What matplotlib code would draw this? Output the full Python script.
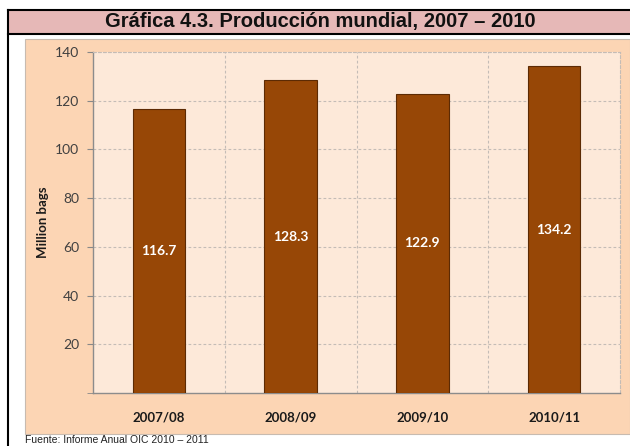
import matplotlib
matplotlib.use("Agg")
import matplotlib.pyplot as plt
from matplotlib.patches import Rectangle
from matplotlib.lines import Line2D

categories = ["2007/08", "2008/09", "2009/10", "2010/11"]
production = [116.7, 128.3, 122.9, 134.2]
yticks = [20, 40, 60, 80, 100, 120, 140]

W, H = 630, 446
fig = plt.figure(figsize=(W / 100, H / 100), dpi=100)
fig.patch.set_facecolor("white")

def fx(x):
    return x / W

def fy(y):
    return 1 - y / H

body = ["Lato", "Open Sans", "DejaVu Sans"]
narrow = ["Liberation Sans Narrow", "Liberation Sans", "DejaVu Sans"]

# title band
fig.patches.append(Rectangle((fx(8), fy(33.5)), fx(630) - fx(8), fy(10) - fy(33.5),
                             transform=fig.transFigure, facecolor="#E6B8B7",
                             edgecolor="none", zorder=0))
fig.lines.append(Line2D([fx(8), 1], [fy(9.5), fy(9.5)], transform=fig.transFigure, color="black", lw=1.5))
fig.lines.append(Line2D([fx(8), 1], [fy(33.5), fy(33.5)], transform=fig.transFigure, color="black", lw=1.5))
fig.lines.append(Line2D([fx(8), fx(8)], [0, fy(9.5)], transform=fig.transFigure, color="black", lw=1.5))
fig.text(fx(320), fy(22), "Gráfica 4.3. Producción mundial, 2007 – 2010", ha="center", va="center",
         fontsize=14.5, fontweight="bold", family=narrow, color="#111111")

# chart area background
fig.patches.append(Rectangle((fx(25), fy(434)), fx(630) - fx(25), fy(39) - fy(434),
                             transform=fig.transFigure, facecolor="#FCD5B4",
                             edgecolor="#C8BBB0", lw=0.8, zorder=0))

ax = fig.add_axes([fx(93), fy(393), fx(620) - fx(93), fy(52) - fy(393)])
ax.set_zorder(2)
ax.set_facecolor("#FDE9D9")
x = list(range(len(categories)))
bars = ax.bar(x, production, width=0.40, color="#974706", edgecolor="#5C2A03", linewidth=0.8, zorder=3)
for xi, v in zip(x, production):
    ax.text(xi, v / 2, f"{v:.1f}", ha="center", va="center", color="white",
            fontsize=10, fontweight="bold", family=body, zorder=4)

ax.set_xlim(-0.5, len(categories) - 0.5)
ax.set_ylim(0, 140)
ax.set_yticks(yticks)
ax.set_yticklabels([str(t) for t in yticks], fontsize=10, family=body, color="#404040")
ax.set_yticks([0], minor=True)
ax.set_xticks(x)
ax.set_xticklabels(categories, fontsize=9.5, fontweight="bold", family=body, color="#1a1a1a")
ax.tick_params(axis="x", length=0, pad=13)
ax.tick_params(axis="y", which="both", length=4, color="#888888", pad=6)

ax.yaxis.grid(True, linestyle=(0, (2.5, 2)), color="#C4BCB6", lw=0.8, zorder=1)
ax.set_axisbelow(True)
for b in [0.5, 1.5, 2.5]:
    ax.axvline(b, linestyle=(0, (2.5, 2)), color="#C4BCB6", lw=0.8, zorder=1)

for s in ["top", "right"]:
    ax.spines[s].set_linestyle((0, (2.5, 2)))
    ax.spines[s].set_color("#C4BCB6")
    ax.spines[s].set_linewidth(0.8)
for s in ["left", "bottom"]:
    ax.spines[s].set_color("#8C8C8C")
    ax.spines[s].set_linewidth(1.0)

ax.set_ylabel("Million bags", fontsize=9.5, fontweight="bold", family=body, color="#1a1a1a", labelpad=4)

fig.text(fx(25), fy(435), "Fuente: Informe Anual OIC 2010 – 2011", ha="left", va="top",
         fontsize=7.5, family=narrow, color="#222222")

fig.savefig("out.png", dpi=100)
